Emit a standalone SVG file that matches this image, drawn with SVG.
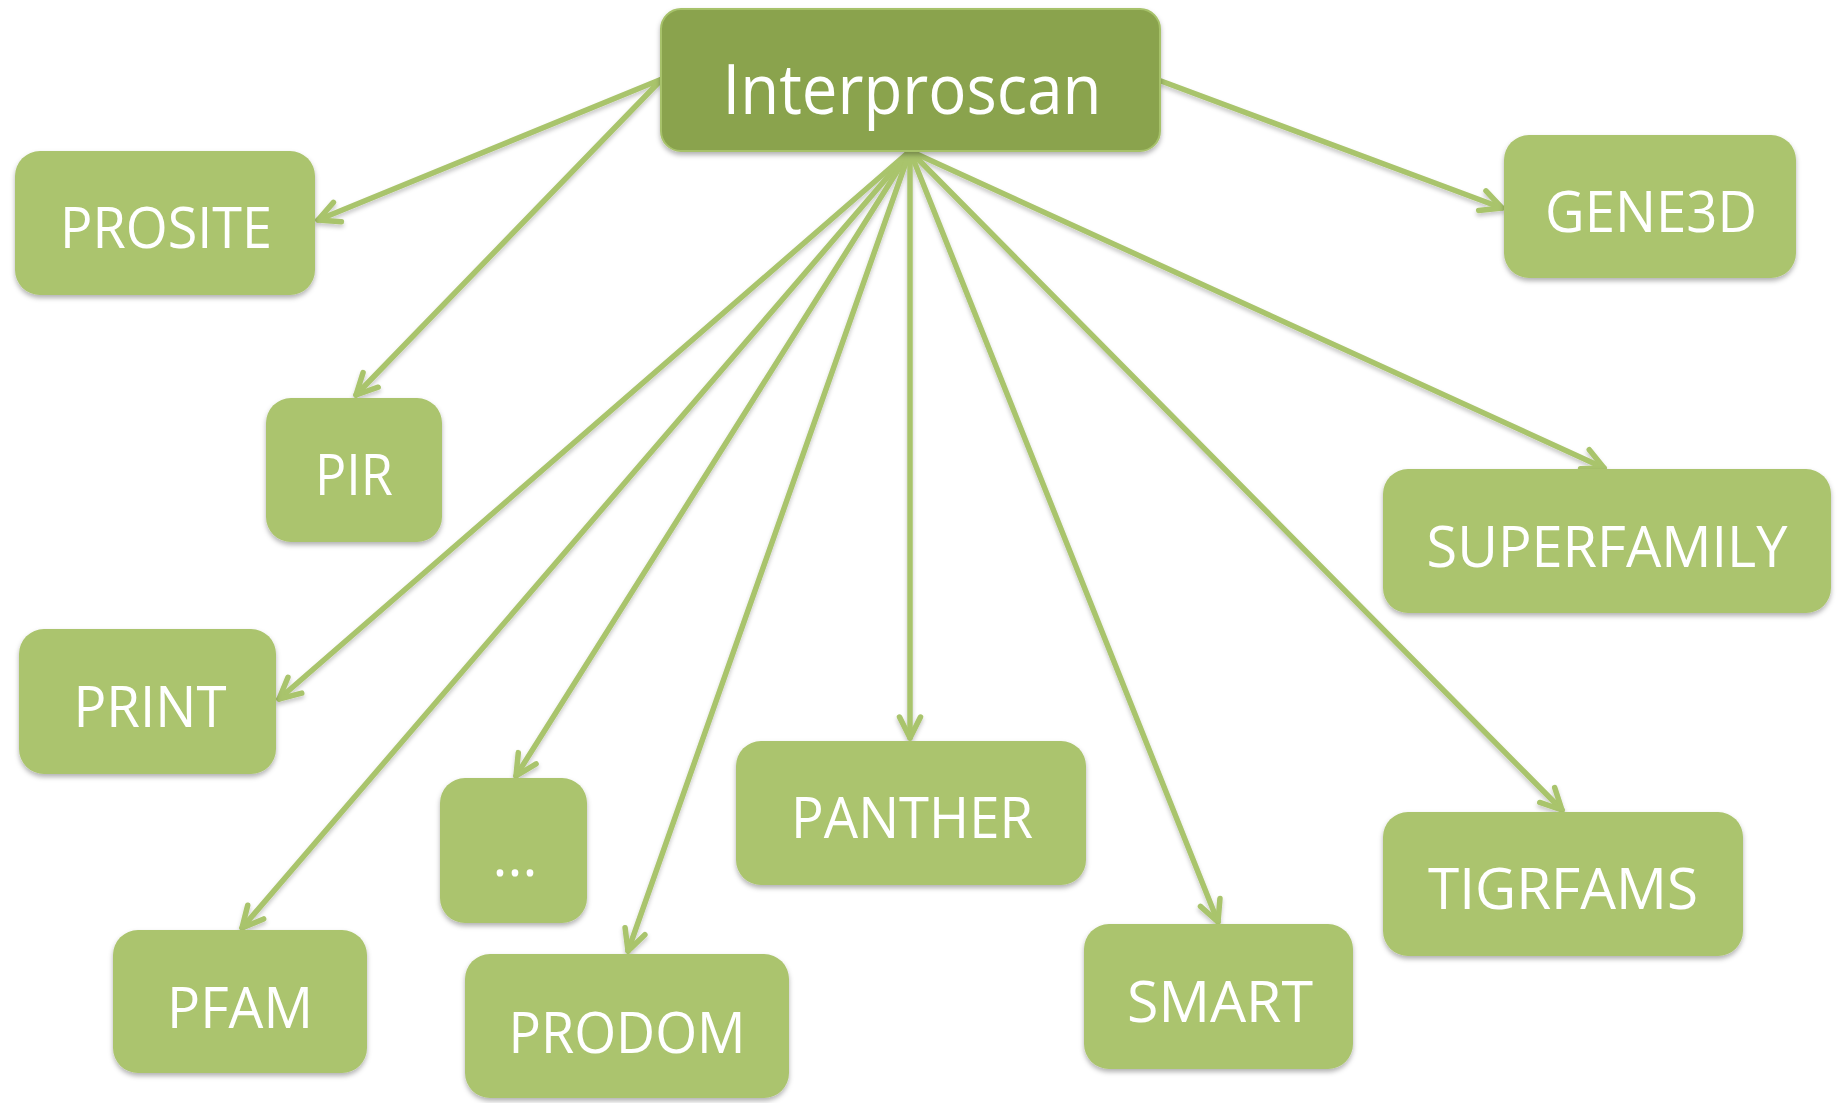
<svg xmlns="http://www.w3.org/2000/svg" width="1845" height="1103" viewBox="0 0 1845 1103">
<style>
.node{fill:#ABC46E;}
.root{fill:#8AA34E;stroke:#A7C26B;stroke-width:2;}
.lbl{font-family:"Open Sans","Liberation Sans",sans-serif;font-size:57px;fill:#FFFFFF;text-anchor:middle;}
.big{font-size:69px;}
.edge{stroke:#A9C46C;stroke-width:5.5;fill:none;stroke-linecap:round;marker-end:url(#arr);}
</style>
<defs>
<filter id="sh" x="-10%" y="-10%" width="120%" height="130%">
<feDropShadow dx="0" dy="3" stdDeviation="2.5" flood-color="#000" flood-opacity="0.3"/>
</filter>
<filter id="lsh" x="-10%" y="-10%" width="120%" height="120%">
<feDropShadow dx="0" dy="3" stdDeviation="2" flood-color="#000" flood-opacity="0.22"/>
</filter>
<marker id="arr" markerUnits="userSpaceOnUse" orient="auto" refX="0" refY="0" markerWidth="40" markerHeight="40" viewBox="-30 -20 40 40" overflow="visible">
<path d="M-21,-10.5 L0,0 L-21,10.5" fill="none" stroke="#A9C46C" stroke-width="5.5" stroke-linecap="round" stroke-linejoin="round"/>
</marker>
</defs>
<g id="connectors" filter="url(#lsh)">
<line class="edge" x1="662" y1="79" x2="318" y2="220"/>
<line class="edge" x1="662" y1="79" x2="356" y2="395"/>
<line class="edge" x1="1161" y1="81" x2="1502" y2="208"/>
<line class="edge" x1="910" y1="151" x2="279" y2="699"/>
<line class="edge" x1="910" y1="151" x2="242" y2="928"/>
<line class="edge" x1="910" y1="151" x2="516" y2="776"/>
<line class="edge" x1="910" y1="151" x2="628" y2="951"/>
<line class="edge" x1="910" y1="151" x2="910" y2="738"/>
<line class="edge" x1="910" y1="151" x2="1218" y2="922"/>
<line class="edge" x1="910" y1="151" x2="1562" y2="810"/>
<line class="edge" x1="910" y1="151" x2="1604" y2="468"/>
</g>
<g id="interproscan"><rect class="root" x="661" y="9" width="499" height="142" rx="20" filter="url(#sh)"/><text class="lbl big" x="912" y="114" textLength="379" lengthAdjust="spacingAndGlyphs">Interproscan</text></g>
<g id="prosite"><rect class="node" x="15" y="151" width="300" height="144" rx="25" filter="url(#sh)"/><text class="lbl" x="166" y="248" textLength="212" lengthAdjust="spacingAndGlyphs">PROSITE</text></g>
<g id="pir"><rect class="node" x="266" y="398" width="176" height="144" rx="25" filter="url(#sh)"/><text class="lbl" x="354" y="495" textLength="78" lengthAdjust="spacingAndGlyphs">PIR</text></g>
<g id="print"><rect class="node" x="19" y="629" width="257" height="145" rx="25" filter="url(#sh)"/><text class="lbl" x="150" y="727" textLength="153" lengthAdjust="spacingAndGlyphs">PRINT</text></g>
<g id="pfam"><rect class="node" x="113" y="930" width="254" height="143" rx="25" filter="url(#sh)"/><text class="lbl" x="240" y="1028" textLength="146" lengthAdjust="spacingAndGlyphs">PFAM</text></g>
<g id="more"><rect class="node" x="440" y="778" width="147" height="145" rx="25" filter="url(#sh)"/><text class="lbl" x="515" y="876">...</text></g>
<g id="prodom"><rect class="node" x="465" y="954" width="324" height="144" rx="25" filter="url(#sh)"/><text class="lbl" x="627" y="1053" textLength="237" lengthAdjust="spacingAndGlyphs">PRODOM</text></g>
<g id="panther"><rect class="node" x="736" y="741" width="350" height="144" rx="25" filter="url(#sh)"/><text class="lbl" x="912" y="838" textLength="242" lengthAdjust="spacingAndGlyphs">PANTHER</text></g>
<g id="smart"><rect class="node" x="1084" y="924" width="269" height="145" rx="25" filter="url(#sh)"/><text class="lbl" x="1220" y="1022" textLength="186" lengthAdjust="spacingAndGlyphs">SMART</text></g>
<g id="tigrfams"><rect class="node" x="1383" y="812" width="360" height="144" rx="25" filter="url(#sh)"/><text class="lbl" x="1563" y="909" textLength="270" lengthAdjust="spacingAndGlyphs">TIGRFAMS</text></g>
<g id="superfamily"><rect class="node" x="1383" y="469" width="448" height="144" rx="25" filter="url(#sh)"/><text class="lbl" x="1607" y="567" textLength="361" lengthAdjust="spacingAndGlyphs">SUPERFAMILY</text></g>
<g id="gene3d"><rect class="node" x="1504" y="135" width="292" height="143" rx="25" filter="url(#sh)"/><text class="lbl" x="1651" y="232" textLength="212" lengthAdjust="spacingAndGlyphs">GENE3D</text></g>
</svg>
